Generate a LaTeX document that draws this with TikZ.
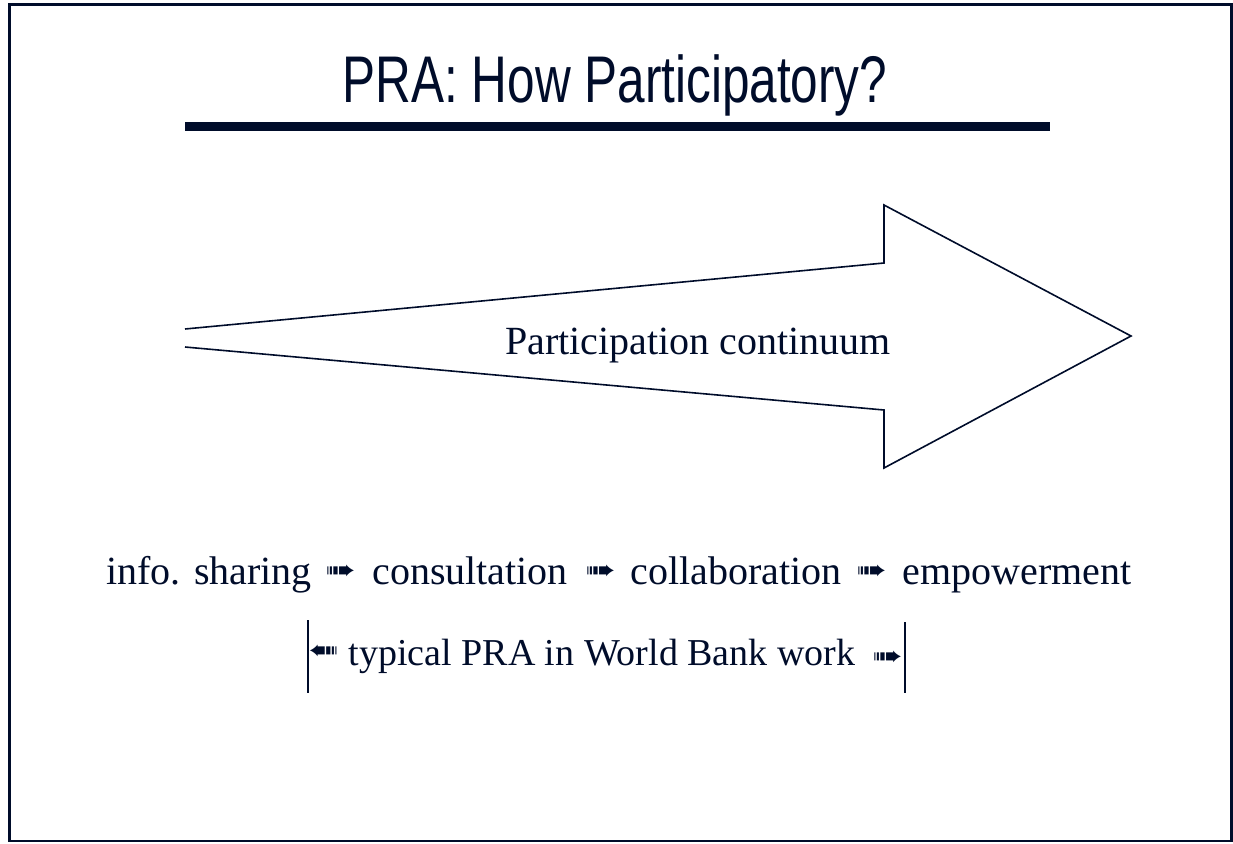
\documentclass[tikz,border=0pt]{standalone}
\usepackage{fontspec}
\usepackage{graphicx}
\setmainfont{Liberation Serif}
\newfontfamily\titlefont[FakeStretch=0.75]{Liberation Sans}
\newfontfamily\symfont{DejaVu Sans}
\begin{document}
\begin{tikzpicture}[x=1pt, y=-1pt]
    \definecolor{slide-navy}{RGB}{0,12,42}
    \def\rarr{\scalebox{1.65}[1.25]{\symfont\fontsize{22}{22}\selectfont ➠}}
    \def\larr{\reflectbox{\rarr}}
    \tikzset{word/.style={anchor=base, text=slide-navy, inner sep=0pt, font=\fontsize{40}{40}\selectfont},
             step arrow/.style={text=slide-navy, inner sep=0pt}}
    \useasboundingbox (0,0) rectangle (1233,843);
    \draw[slide-navy, line width=2.5pt] (9.5,4.5) rectangle (1231.5,841);
    \node[anchor=base, text=slide-navy, inner sep=0pt, font=\titlefont\fontsize{66}{66}\selectfont] (title) at (615,102) {PRA: How Participatory?};
    \fill[slide-navy] (185,122) rectangle (1050,131);
    \draw[slide-navy, line width=1.6pt, line join=miter] (185,329) -- (884,263) -- (884,205) -- (1131,336)
      -- (884,468) -- (884,410) -- (185,347);
    \node[word] (cont) at (698,354) {Participation continuum};
    \node[word] (info) at (209,584) {info. sharing};
    \node[step arrow] (a1) at (340.5,572.5) {\rarr};
    \node[word] (consult) at (470,584) {consultation};
    \node[step arrow] (a2) at (600.5,572.5) {\rarr};
    \node[word] (collab) at (736,584) {collaboration};
    \node[step arrow] (a3) at (871.5,572.5) {\rarr};
    \node[word] (empower) at (1017,584) {empowerment};
    % bounds of the usual PRA
    \coordinate (lbar) at (307.5,620);
    \coordinate (rbar) at (905,622);
    \draw[slide-navy, line width=2pt] (lbar) -- ++(0,73);
    \draw[slide-navy, line width=2pt] (rbar) -- ++(0,71);
    \node[step arrow] (la) at (323.5,652.5) {\larr};
    \node[word, font=\fontsize{38}{38}\selectfont] (typical) at (602,665) {typical PRA in World Bank work};
    \node[step arrow] (ra) at (887.5,658) {\rarr};
\end{tikzpicture}
\end{document}
